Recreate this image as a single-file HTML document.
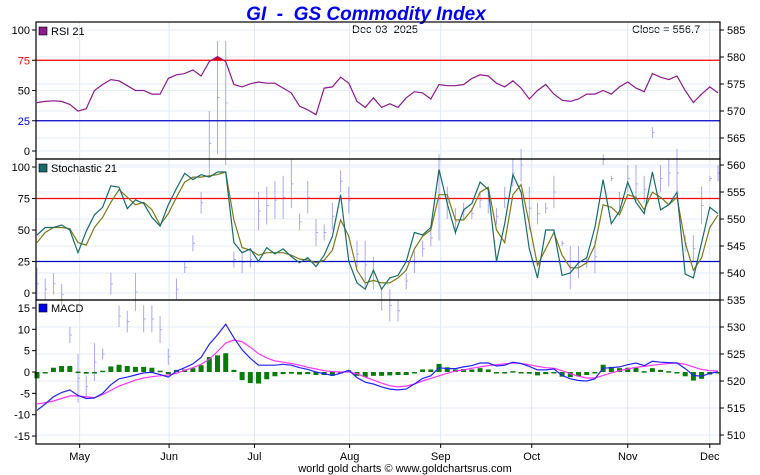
<!DOCTYPE html>
<html><head><meta charset="utf-8">
<style>
html,body{margin:0;padding:0;background:#fff;}
svg{display:block;font-family:"Liberation Sans",sans-serif;}
text{white-space:pre;}
</style></head>
<body>
<svg id="chart" width="760" height="475" viewBox="0 0 760 475" xmlns="http://www.w3.org/2000/svg" xml:space="preserve">
<text x="366" y="20" text-anchor="middle" font-size="19" font-weight="bold" font-style="italic" fill="#0000ee">GI  -  GS Commodity Index</text>
<text x="352" y="33" font-size="11" fill="#000">Dec-03  2025</text>
<text x="632" y="33" font-size="11" fill="#000">Close = 556.7</text>
<text x="405" y="472" text-anchor="middle" font-size="11" fill="#000">world gold charts © www.goldchartsrus.com</text>
<g id="g"></g>
</svg>
<script>
const rsiVals=[40,41,41.5,41,38.5,33,35,50,55,59,58,54,50,50,47,47,60,63,64,67,62,74,78,74,55,53,55.5,57,56,56,52,48,37,34,30,52,53,61,56,41,36,44,36,39,36,44,49,48,43,55,54,54,55,60,63,62,56,53,58,52,43,50,55,47,42,41,43,47,47,50,47,53,57,52,49,64,61,59,62,50,40,47,53,48];
const stochK=[46,52,52,54,50,32,49,62,68,85,84,67,74,71,60,53,70,83,95,90,94,92,96,96,40,32,35,25,36,31,35,29,24,28,21,30,45,78,25,8,3,18,3,12,14,25,48,46,52,98,71,48,66,71,88,82,25,55,94,80,35,12,50,50,14,16,24,28,52,90,55,65,88,72,63,96,66,70,80,15,12,40,68,63];
const stochD=[40,48,52,52,51,40,38,52,60,72,82,76,70,72,66,54,63,76,88,92,92,93,94,96,58,36,34,30,32,32,32,30,27,26,24,26,34,58,45,18,8,10,8,8,12,18,35,45,50,78,78,58,58,66,80,84,50,40,78,86,55,22,35,48,30,20,20,24,38,70,68,62,78,76,66,80,76,70,76,40,18,28,52,62];
const macdVals=[-9,-7.5,-5.8,-4.8,-4.2,-5.5,-6.2,-6.1,-5,-3,-1.6,-1.2,-0.7,-0.2,-0.1,-0.6,-1.2,0.2,1,1.9,3.4,6.5,8.7,11.2,8,5.2,3.2,1.6,1.6,1.6,1.8,1.6,1,0.6,0,-0.4,-0.8,-0.3,0.4,-1.3,-2.4,-2.8,-3.5,-4,-4.2,-4,-2.8,-1.5,-0.9,1,0.8,0.8,1.2,1.5,2.1,2.1,1.4,1.6,2.3,2,1.3,0.5,0.5,0.7,-0.8,-1.6,-2,-2.1,-1.6,0.9,1,1.2,1.7,2.1,1.5,2.5,2.3,2.2,2.1,0.8,-0.8,-1,-0.3,0];
const signalVals=[-7.5,-7.2,-6.8,-6.2,-5.6,-5.6,-5.8,-6,-5.3,-4.3,-3.3,-2.6,-1.9,-1.4,-1.1,-0.9,-0.7,-0.3,0.4,1,1.8,3,4.8,6.8,7.5,7.1,5.8,4.3,3.3,2.6,2.3,2,1.6,1.1,0.7,0.3,0.1,0,0,-0.4,-1.2,-1.9,-2.6,-3.2,-3.5,-3.3,-2.8,-2.1,-1.5,-0.9,-0.3,0.2,0.5,0.9,1.2,1.5,1.7,1.9,2.1,2,1.7,1.3,1,0.9,0.3,-0.4,-1,-1.4,-1.4,-0.8,-0.2,0.3,0.7,1.1,1.3,1.6,1.8,2,2.1,1.8,1.2,0.6,0.3,0.2];
const histVals=[-1.5,-0.3,1,1.4,1.4,0.1,-0.4,-0.1,0.3,1.3,1.7,1.4,1.2,1.2,1,0.3,-0.5,0.5,0.6,0.9,1.6,3.5,3.9,4.4,0.5,-1.9,-2.6,-2.7,-1.7,-1,-0.5,-0.4,-0.6,-0.5,-0.7,-0.7,-0.9,-0.3,0.4,-0.9,-1.2,-0.9,-0.9,-0.8,-0.7,-0.7,0,0.6,0.6,1.9,1.1,0.6,0.7,0.6,0.9,0.6,-0.3,-0.3,0.2,0,-0.4,-0.8,-0.5,-0.2,-1.1,-1.2,-1,-0.7,-0.2,1.7,1.2,0.9,1,1,0.2,0.9,0.5,0.2,0,-1,-2,-1.6,-0.6,-0.2];
const priceLow=[535,535,536,534,527,516,517,520,524,536,530,529,533,529,529,527,523,535,540,544,551,558,562,560,541,540,541,548,549,550,550,552,548,551,545,546,548,555,551,541,537,537,533,531,531,537,540,543,545,546,550,547,550,550,552,551,549,552,556,557,548,549,551,552,545,537,539,541,540,560,557,552,555,553,553,565,555,556,554,544,542,549,557,557];
const priceHigh=[541,539,540,538,530,525,521,527,526,540,534,533,540,534,534,532,526,539,542,547,555,570,583,583,544,544,544,555,556,557,558,561,551,557,550,549,553,559,556,546,546,543,537,537,535,540,544,546,548,562,556,552,553,552,555,556,552,556,561,563,556,553,553,558,546,545,545,543,546,562,558,555,560,560,558,567,560,561,563,547,547,556,558,560];
const months=["May","Jun","Jul","Aug","Sep","Oct","Nov","Dec"];
const monthIdx=[5.2,16.1,26.5,38.1,49.2,60.3,72,82];
const rsiTicks=[100,75,50,25,0];
const stochTicks=[100,75,50,25,0];
const macdTicks=[15,10,5,0,-5,-10,-15];
const priceTicks=[585,580,575,570,565,560,555,550,545,540,535,530,525,520,515,510];

const NS="http://www.w3.org/2000/svg";
const G=document.getElementById('g');
const L=36,R=720;
const xS=i=>37+i*(681/83);
const rsiY=v=>151-v*1.21;
const stY=v=>293-v*1.26;
const mY=v=>372-v*4.27;
const pY=p=>30+(585-p)*5.4;
function el(t,a,parent){const e=document.createElementNS(NS,t);for(const k in a)e.setAttribute(k,a[k]);(parent||G).appendChild(e);return e;}
function line(x1,y1,x2,y2,c,w){return el('line',{x1,y1,x2,y2,stroke:c,'stroke-width':w||1});}
function txt(x,y,s,anchor,c){const t=el('text',{x,y,'font-size':11,'text-anchor':anchor||'start',fill:c||'#000'});t.textContent=s;return t;}
function poly(vals,yf,c,w){return el('polyline',{points:vals.map((v,i)=>xS(i).toFixed(1)+','+yf(v).toFixed(1)).join(' '),fill:'none',stroke:c,'stroke-width':w||1.2});}

priceTicks.forEach(p=>{const l=line(L,pY(p),R,pY(p),'#e4eef9',1);});
monthIdx.forEach(m=>{const l=line(xS(m),22,xS(m),444,'#dde8f6',1);});
[100,50,0].forEach(v=>line(L,rsiY(v),R,rsiY(v),'#e4eef9',1));
[100,50,0].forEach(v=>line(L,stY(v),R,stY(v),'#e4eef9',1));

priceLow.forEach((lo,i)=>{
 const b=line(xS(i),pY(priceHigh[i]),xS(i),pY(lo),'#a8a8f4',1);
 
 
 line(xS(i),pY((priceHigh[i]+lo)/2),xS(i)+2,pY((priceHigh[i]+lo)/2),'#a8a8f4',1);
});

line(L,rsiY(75),R,rsiY(75),'#ff0000',1.2);
line(L,rsiY(25),R,rsiY(25),'#0000cc',1.2);
const cp=el('clipPath',{id:'above75'});el('rect',{x:L,y:22,width:R-L,height:rsiY(75)-22},cp);
const fillPts=rsiVals.map((v,i)=>xS(i).toFixed(1)+','+rsiY(v).toFixed(1)).join(' ')+` ${xS(83)},${rsiY(75)} ${xS(0)},${rsiY(75)}`;
const rf=el('polygon',{points:fillPts,fill:'#ee0000','clip-path':'url(#above75)'});


const rl=poly(rsiVals,rsiY,'#8b1a8b',1.2);



line(L,stY(75),R,stY(75),'#ff0000',1.2);
line(L,stY(25),R,stY(25),'#0000cc',1.2);
const sd=poly(stochD,stY,'#7a7a1a',1.2);


const sk=poly(stochK,stY,'#1a6a6a',1.2);



histVals.forEach((v,i)=>{
 const y0=mY(0),y1=mY(v);
 const r=el('rect',{x:xS(i)-2.5,y:Math.min(y0,y1),width:5,height:Math.max(1.5,Math.abs(y1-y0)),fill:'#0a7a0a'});
 
 
});
const sg=poly(signalVals,mY,'#ff33ff',1.2);


const ml=poly(macdVals,mY,'#2222ff',1.2);



[[22,159],[159,300],[300,444]].forEach(([t,b])=>{const r=el('rect',{x:L,y:t,width:R-L,height:b-t,fill:'none',stroke:'#000','stroke-width':1.2});});

rsiTicks.forEach(v=>{line(32,rsiY(v),L,rsiY(v),'#000',1);const t=txt(30,rsiY(v)+4,String(v),'end',v===75?'#ff0000':(v===25?'#0000ee':'#000'));});
stochTicks.forEach(v=>{line(32,stY(v),L,stY(v),'#000',1);const t=txt(30,stY(v)+4,String(v),'end');});
macdTicks.forEach(v=>{line(32,mY(v),L,mY(v),'#000',1);const t=txt(30,mY(v)+4,String(v),'end');});
priceTicks.forEach(p=>{line(R,pY(p),R+4,pY(p),'#000',1);const t=txt(R+7,pY(p)+4,String(p),'start');});
months.forEach((m,i)=>{line(xS(monthIdx[i]),444,xS(monthIdx[i]),448,'#000',1);const t=txt(xS(monthIdx[i]),460,m,'middle');});

[[27,'#8b1a8b','RSI 21','rsi-legend'],[164,'#1a6a6a','Stochastic 21','stoch-legend'],[304,'#0000ee','MACD','macd-legend']].forEach(([y,c,s,n])=>{
 el('rect',{x:39,y:y,width:8,height:8,fill:c,stroke:'#000','stroke-width':0.6});
 const t=txt(51,y+8,s,'start');
 
 
});
</script>
</body></html>
